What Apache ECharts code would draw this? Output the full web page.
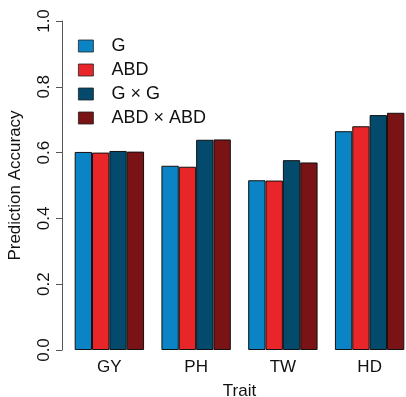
<!DOCTYPE html>
<html><head><meta charset="utf-8">
<script src="https://cdn.jsdelivr.net/npm/echarts@6/dist/echarts.min.js"></script>
<style>html,body{margin:0;padding:0;background:#fff}#c{width:406px;height:397px}</style>
</head><body><div id="c"></div>
<script>
const categories = ['GY', 'PH', 'TW', 'HD'];
const seriesNames = ['G', 'ABD', 'G × G', 'ABD × ABD'];
const valG = [0.602, 0.560, 0.516, 0.665];
const valABD = [0.600, 0.557, 0.515, 0.680];
const valGxG = [0.605, 0.639, 0.577, 0.714];
const valABDxABD = [0.603, 0.640, 0.570, 0.721];
const yTicks = [0.0, 0.2, 0.4, 0.6, 0.8, 1.0];
const colors = ['#0b84c6', '#e8262a', '#044a6c', '#7a1315'];

const seriesData = [valG, valABD, valGxG, valABDxABD];
const font = 'Liberation Sans, Arial, sans-serif';
const chart = echarts.init(document.getElementById('c'));
chart.setOption({
  animation: false,
  backgroundColor: '#fff',
  grid: { left: 66, top: 21, width: 347, bottom: 47, outerBoundsMode: 'none', containLabel: false },
  legend: {
    orient: 'vertical', left: 73, top: 32,
    icon: 'rect',
    itemWidth: 15, itemHeight: 12, itemGap: 6,
    data: seriesNames,
    itemStyle: { borderWidth: 0.8, borderColor: '#222' },
    textStyle: { fontFamily: font, fontSize: 18, lineHeight: 14, color: '#111', padding: [0, 0, 0, 13] }
  },
  xAxis: {
    type: 'category', data: categories,
    axisLine: { show: false }, axisTick: { show: false },
    axisLabel: { fontFamily: font, fontSize: 17, color: '#111', margin: 9 },
    name: 'Trait', nameLocation: 'middle', nameGap: 33,
    nameTextStyle: { fontFamily: font, fontSize: 17, color: '#111' }
  },
  yAxis: {
    type: 'value', min: 0, max: 1, interval: 0.2, offset: 4,
    splitLine: { show: false },
    axisLine: { show: true, lineStyle: { color: '#555', width: 1 } },
    axisTick: { show: true, length: 6, lineStyle: { color: '#555' } },
    axisLabel: { rotate: 90, fontFamily: font, fontSize: 17, color: '#111', margin: 9,
      formatter: v => yTicks.find(t => Math.abs(t - v) < 1e-9) !== undefined ? v.toFixed(1) : '' },
    name: 'Prediction Accuracy', nameLocation: 'middle', nameGap: 38,
    nameTextStyle: { fontFamily: font, fontSize: 17, color: '#111' }
  },
  series: seriesNames.map((n, i) => ({
    name: n, type: 'bar', data: seriesData[i],
    barGap: '0%', barCategoryGap: '20%',
    itemStyle: { color: colors[i], borderColor: '#111', borderWidth: 1 }
  }))
});
</script></body></html>
